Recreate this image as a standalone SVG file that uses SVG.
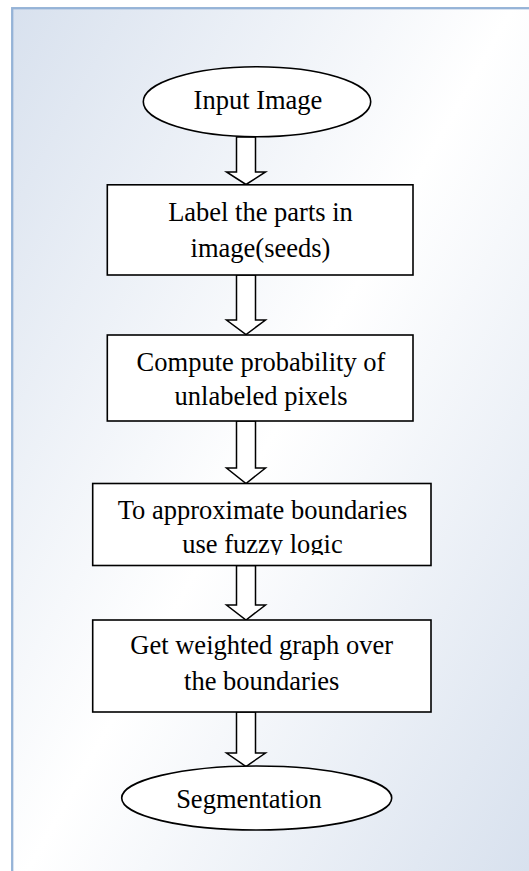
<svg xmlns="http://www.w3.org/2000/svg" width="529" height="871" viewBox="0 0 529 871">
<defs>
<linearGradient id="bg" gradientUnits="userSpaceOnUse" x1="12" y1="8" x2="773" y2="436">
<stop offset="0" stop-color="#d8e1ee"/>
<stop offset="0.5" stop-color="#ffffff"/>
<stop offset="1" stop-color="#d8e1ee"/>
</linearGradient>
<clipPath id="clip3"><rect x="92" y="483" width="340" height="72"/></clipPath>
<style>
.box{fill:#ffffff;stroke:#000000;stroke-width:1.6}
.arr{fill:#ffffff;stroke:#000000;stroke-width:1.5;stroke-linejoin:miter}
text{font-family:"Liberation Serif","Times New Roman",serif;font-size:26.5px;fill:#000000;text-anchor:middle}
</style>
</defs>
<rect x="0" y="0" width="529" height="871" fill="#ffffff"/>
<rect x="12.2" y="8.2" width="600" height="900" fill="url(#bg)" stroke="#95b3d7" stroke-width="2.3"/>
<g id="connectors">
<polygon class="arr" points="236.5,137 255.5,137 255.5,172 265.5,172 246,184.5 226.5,172 236.5,172"/>
<polygon class="arr" points="236.5,275 255.5,275 255.5,320 265.5,320 246,334.5 226.5,320 236.5,320"/>
<polygon class="arr" points="236.5,421 255.5,421 255.5,468 265.5,468 246,483.5 226.5,468 236.5,468"/>
<polygon class="arr" points="236.5,565.5 255.5,565.5 255.5,605 265.5,605 246,620 226.5,605 236.5,605"/>
<polygon class="arr" points="236.5,712 255.5,712 255.5,753 265.5,753 246,766.5 226.5,753 236.5,753"/>
</g>
<g id="input-image">
<ellipse class="box" cx="257" cy="101.7" rx="113.7" ry="35"/>
<text x="258" y="108.5">Input Image</text>
</g>
<g id="label-parts">
<rect class="box" x="107.3" y="184.8" width="305.7" height="90.2"/>
<text x="260.5" y="220.7">Label the parts in</text>
<text x="260.5" y="256.7">image(seeds)</text>
</g>
<g id="compute-probability">
<rect class="box" x="107.3" y="335" width="305.7" height="86"/>
<text x="261" y="371">Compute probability of</text>
<text x="261" y="405.3">unlabeled pixels</text>
</g>
<g id="fuzzy-logic">
<rect class="box" x="92.7" y="483.5" width="338.3" height="82"/>
<g clip-path="url(#clip3)">
<text x="262.5" y="519">To approximate boundaries</text>
<text x="262.5" y="553">use fuzzy logic</text>
</g>
</g>
<g id="weighted-graph">
<rect class="box" x="92.7" y="620" width="338.3" height="92"/>
<text x="261.7" y="653.5">Get weighted graph over</text>
<text x="261.7" y="690">the boundaries</text>
</g>
<g id="segmentation">
<ellipse class="box" cx="256.7" cy="798" rx="135" ry="32"/>
<text x="249" y="807.7">Segmentation</text>
</g>
</svg>
